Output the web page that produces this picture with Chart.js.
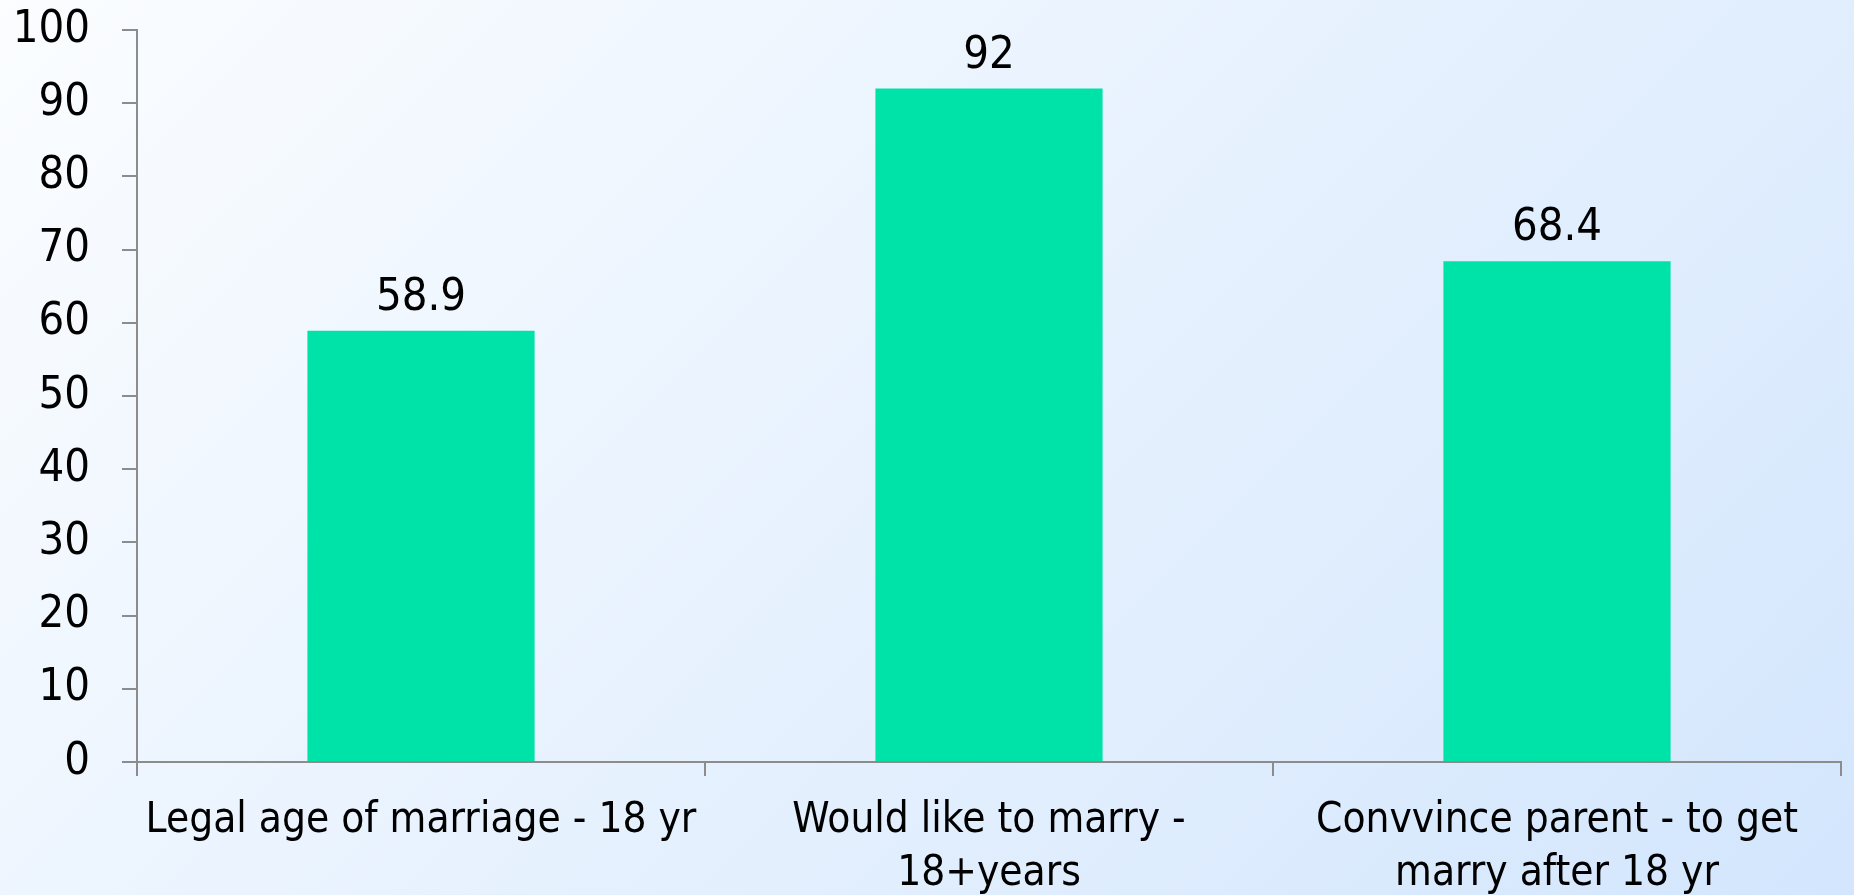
<!DOCTYPE html>
<html>
<head>
<meta charset="utf-8">
<script src="https://cdn.jsdelivr.net/npm/chart.js@4.4.1/dist/chart.umd.min.js"></script>
<style>
  html, body { margin: 0; padding: 0; width: 1854px; height: 895px; overflow: hidden; }
  body { background: linear-gradient(135deg, #fbfdff 0%, #d3e6fd 100%); }
  #wrap { position: relative; width: 1854px; height: 895px; }
</style>
</head>
<body>
<div id="wrap"><canvas id="c" width="1854" height="895"></canvas></div>
<script>
const categories = [
  "Legal age of marriage - 18 yr",
  ["Would like to marry -", "18+years"],
  ["Convvince parent - to get", "marry after 18 yr"]
];
const values = [58.9, 92, 68.4];
const valueLabels = ["58.9", "92", "68.4"];
const yTicks = [0, 10, 20, 30, 40, 50, 60, 70, 80, 90, 100];

const FONT = "'DejaVu Sans Condensed', 'DejaVu Sans', sans-serif";

const valueLabelPlugin = {
  id: 'valueLabels',
  afterDatasetsDraw(chart) {
    const ctx = chart.ctx;
    const meta = chart.getDatasetMeta(0);
    ctx.save();
    ctx.font = "45px " + FONT;
    ctx.fillStyle = "#000";
    ctx.textAlign = "center";
    ctx.textBaseline = "alphabetic";
    meta.data.forEach((bar, i) => {
      ctx.fillText(valueLabels[i], bar.x, bar.y - 21);
    });
    ctx.restore();
  }
};

new Chart(document.getElementById('c'), {
  type: 'bar',
  data: {
    labels: categories,
    datasets: [{
      data: values,
      backgroundColor: '#00e3a8',
      borderWidth: 0,
      barPercentage: 0.4,
      categoryPercentage: 1.0
    }]
  },
  options: {
    responsive: false,
    animation: false,
    devicePixelRatio: 1,
    layout: { padding: { top: 30, right: 13, left: 0, bottom: 0 } },
    plugins: { legend: { display: false }, tooltip: { enabled: false } },
    scales: {
      x: {
        offset: true,
        grid: { display: true, drawOnChartArea: false, offset: true, tickLength: 14, color: '#8c8c8c', lineWidth: 2 },
        border: { display: true, color: '#8c8c8c', width: 2 },
        ticks: { color: '#000', font: { family: FONT, size: 42, lineHeight: 1.26 }, padding: 19, maxRotation: 0, autoSkip: false },
        afterFit(scale) { scale.height = 133; }
      },
      y: {
        min: 0, max: 100,
        afterBuildTicks(scale) { scale.ticks = yTicks.map(v => ({ value: v })); },
        grid: { display: true, drawOnChartArea: false, tickLength: 15, color: '#8c8c8c', lineWidth: 2 },
        border: { display: true, color: '#8c8c8c', width: 2 },
        ticks: { color: '#000', font: { family: FONT, size: 45 }, padding: 32 },
        afterFit(scale) { scale.width = 137; scale.paddingTop = 0; scale.paddingBottom = 0; }
      }
    }
  },
  plugins: [valueLabelPlugin]
});
</script>
</body>
</html>
